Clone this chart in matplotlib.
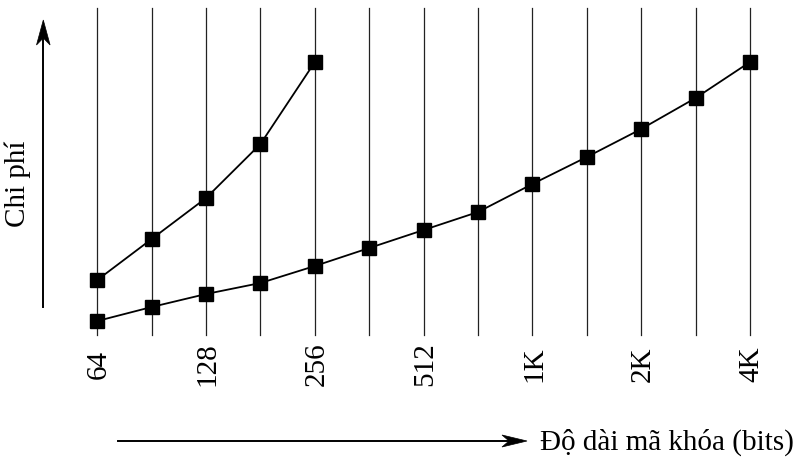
import matplotlib
matplotlib.use('Agg')
import matplotlib.pyplot as plt
from matplotlib.patches import Polygon
from matplotlib.lines import Line2D

plt.rcParams['font.family'] = ['Liberation Serif', 'DejaVu Serif']

# key length steps (13 grid lines), labels on every other one
steps = list(range(13))
tick_pos = [0, 2, 4, 6, 8, 10, 12]
tick_labels = ['64', '128', '256', '512', '1K', '2K', '4K']

# cost curves (arbitrary units)
cost_a = [55, 96, 137, 191, 273]
cost_b = [14, 28, 41, 52, 69, 87, 105, 123, 151, 178, 206, 237, 273]

W, H = 797, 458
fig = plt.figure(figsize=(W / 100, H / 100), dpi=100)


def px(x, y):
    # pixel (from top-left) -> figure fraction
    return (x / W, 1 - y / H)


x0, x1 = 97.3, 750.0
ytop, ybot = 8, 335
ax = fig.add_axes([x0 / W, 1 - ybot / H, (x1 - x0) / W, (ybot - ytop) / H])
ax.set_xlim(0, 12)
ax.set_ylim(0, 327)
ax.axis('off')

for s in steps:
    ax.axvline(s, color='#222222', lw=0.9, clip_on=False)

ax.plot(steps[:len(cost_a)], cost_a, c='k', lw=1.3, marker='s', ms=10.5, clip_on=False)
ax.plot(steps, cost_b, c='k', lw=1.3, marker='s', ms=10.5, clip_on=False)

tr = ax.get_xaxis_transform()
for p, lab in zip(tick_pos, tick_labels):
    ax.text(p + 0.03, -(364 - ybot) / (ybot - ytop), lab, transform=tr, rotation=90,
            ha='center', va='center', fontsize=21)

# y arrow
fig.add_artist(Line2D(*zip(px(43.3, 307), px(43.3, 38)), transform=fig.transFigure, c='k', lw=1.4))
fig.add_artist(Polygon([px(43.3, 20), px(36.5, 45), px(43.3, 38), px(50.1, 45)],
                       closed=True, transform=fig.transFigure, fc='k', ec='k', lw=0.5))
# x arrow
fig.add_artist(Line2D(*zip(px(118, 441), px(510, 441)), transform=fig.transFigure, c='k', lw=1.4))
fig.add_artist(Polygon([px(527, 441), px(502, 435), px(509, 441), px(502, 447)],
                       closed=True, transform=fig.transFigure, fc='k', ec='k', lw=0.5))

fig.text(*px(18, 184), 'Chi phí', rotation=90, ha='center', va='center', fontsize=21)
fig.text(*px(540, 442), 'Độ dài mã khóa (bits)', ha='left', va='center', fontsize=21)

fig.savefig('out.png', dpi=100)
